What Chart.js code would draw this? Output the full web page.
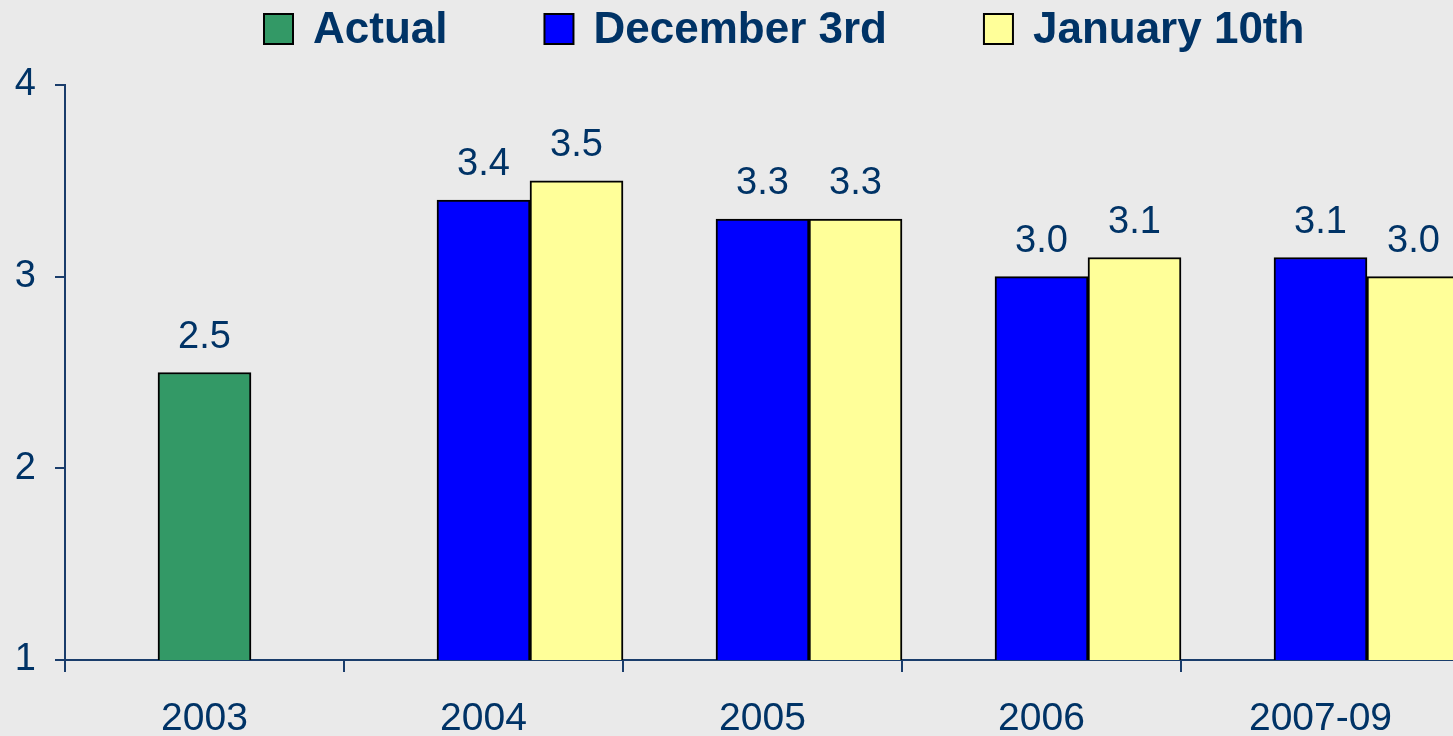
<!DOCTYPE html>
<html>
<head>
<meta charset="utf-8">
<script src="https://cdn.jsdelivr.net/npm/chart.js@4.4.1/dist/chart.umd.min.js"></script>
<style>
  body { margin: 0; overflow: hidden; background: #eaeaea; }
  canvas { display: block; }
</style>
</head>
<body>
<canvas id="forecastChart" width="1460" height="736"></canvas>
<script>
// Chart data
const years = ['2003', '2004', '2005', '2006', '2007-09'];
const actualValues = [2.5, null, null, null, null];
const decemberValues = [null, 3.4, 3.3, 3.0, 3.1];
const januaryValues = [null, 3.5, 3.3, 3.1, 3.0];
const yTicks = [1, 2, 3, 4];

const navy = '#003366';
const axisColor = '#1a3d6b';
const fontFamily = '"Liberation Sans", Arial, sans-serif';

// Draws the value above each bar
const valueLabels = {
    id: 'valueLabels',
    afterDatasetsDraw(chart) {
        const ctx = chart.ctx;
        ctx.save();
        ctx.font = '38px ' + fontFamily;
        ctx.fillStyle = navy;
        ctx.textAlign = 'center';
        ctx.textBaseline = 'alphabetic';
        chart.data.datasets.forEach((ds, i) => {
            if (!ds.showValues) return;
            chart.getDatasetMeta(i).data.forEach((bar, j) => {
                const v = ds.data[j];
                if (v === null || v === undefined) return;
                ctx.fillText(v.toFixed(1), bar.x, bar.y - 25);
            });
        });
        ctx.restore();
    }
};

// Legend across the top, drawn by hand so spacing matches
const topLegend = {
    id: 'topLegend',
    afterDraw(chart) {
        const ctx = chart.ctx;
        ctx.save();
        ctx.font = 'bold 44px ' + fontFamily;
        ctx.textBaseline = 'middle';
        let x = 264;
        const yMid = 31;
        chart.data.datasets.forEach(ds => {
            if (!ds.label) return;
            ctx.fillStyle = ds.backgroundColor;
            ctx.fillRect(x, 14, 29, 30);
            ctx.strokeStyle = '#000';
            ctx.lineWidth = 2;
            ctx.strokeRect(x, 14, 29, 30);
            x += 29 + 20;
            ctx.fillStyle = navy;
            ctx.fillText(ds.label, x, yMid);
            x += ctx.measureText(ds.label).width + 97;
        });
        ctx.restore();
    }
};

const ctx = document.getElementById('forecastChart').getContext('2d');
new Chart(ctx, {
    type: 'bar',
    data: {
        labels: years,
        datasets: [
            { label: '', data: years.map(() => null), stack: 'left', backgroundColor: 'rgba(0,0,0,0)' },
            { label: 'Actual', data: actualValues, stack: 'mid', backgroundColor: '#339966', borderColor: '#000', borderWidth: 2, showValues: true },
            { label: 'December 3rd', data: decemberValues, stack: 'mid', backgroundColor: '#0000ff', borderColor: '#000', borderWidth: 2, showValues: true },
            { label: 'January 10th', data: januaryValues, stack: 'right', backgroundColor: '#ffff99', borderColor: '#000', borderWidth: 2, showValues: true }
        ]
    },
    options: {
        responsive: false,
        animation: false,
        layout: { padding: { top: 85, left: 0, right: 0, bottom: 0 } },
        datasets: { bar: { categoryPercentage: 1.0, barPercentage: 1.0 } },
        plugins: {
            legend: { display: false },
            tooltip: { enabled: false }
        },
        scales: {
            x: {
                afterFit(scale) { scale.height = 76; },
                grid: { drawOnChartArea: false, drawTicks: true, tickLength: 12, color: axisColor, lineWidth: 2 },
                border: { color: axisColor, width: 2 },
                ticks: { color: navy, font: { family: fontFamily, size: 39 }, padding: 24 }
            },
            y: {
                min: 1,
                max: 4,
                afterFit(scale) { scale.width = 65; },
                afterBuildTicks(scale) { scale.ticks = yTicks.map(v => ({ value: v })); },
                grid: { drawOnChartArea: false, drawTicks: true, tickLength: 10, color: axisColor, lineWidth: 2 },
                border: { color: axisColor, width: 2 },
                ticks: { color: navy, font: { family: fontFamily, size: 38 }, padding: 19 }
            }
        }
    },
    plugins: [valueLabels, topLegend]
});
</script>
</body>
</html>
